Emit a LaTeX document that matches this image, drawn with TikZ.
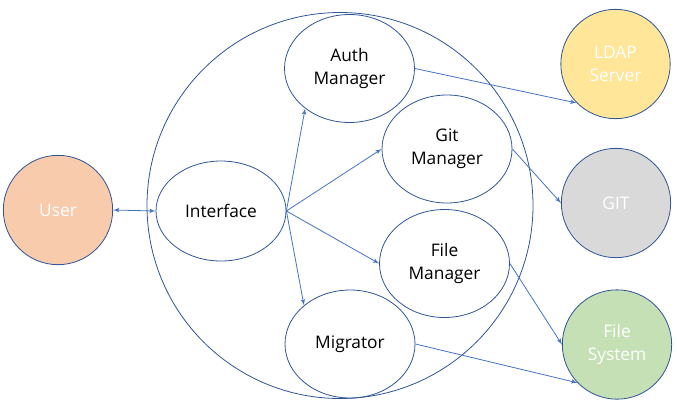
\documentclass[tikz,border=0pt]{standalone}
\usepackage{fontspec}
\setmainfont{Open Sans}
\usepackage{tikz}
\usetikzlibrary{arrows}
\usetikzlibrary{shapes.geometric}

\definecolor{bord}{HTML}{2F5597}
\definecolor{link}{HTML}{4472C4}
\definecolor{peach}{HTML}{F8CBAD}
\definecolor{sand}{HTML}{FFE699}
\definecolor{ash}{HTML}{D9D9D9}
\definecolor{sage}{HTML}{C5E0B4}

\begin{document}
\begin{tikzpicture}[x=0.75pt,y=-0.75pt]
    \tikzset{module/.style = {shape=ellipse,draw=bord,line width=0.6pt,inner sep=0pt,
        minimum width=97.5pt,minimum height=81pt,align=center,
        font=\fontsize{13pt}{17.5pt}\selectfont}}
    \tikzset{outer/.style = {shape=circle,draw=bord,line width=0.6pt,inner sep=0pt,
        minimum size=82pt,align=center,text=white,
        font=\fontsize{13pt}{17.5pt}\selectfont}}
    \tikzset{edge/.style = {->,> = latex',draw=link,line width=0.6pt}}

    \useasboundingbox (0,0) rectangle (677,408);

    % vertices

    \node[circle,draw=bord,line width=0.6pt,minimum size=289.5pt] (core) at (340,205.5) {};

    \node[outer,fill=peach] (user) at (58,210) {User};
    \node[module,minimum height=75pt] (iface) at (221,211) {Interface};

    \node[module] (auth) at (349.5,68.5) {Auth\\Manager};
\node[module] (git) at (447,149) {Git\\Manager};
\node[module] (file) at (444.5,263.5) {File\\Manager};
\node[module] (mig) at (350,344) {Migrator};

    \node[outer,fill=sand] (ldap) at (615.5,64) {LDAP\\Server};
\node[outer,fill=ash] (gitsrv) at (616,203) {GIT};
\node[outer,fill=sage] (fs) at (617,344.5) {File\\System};

 \draw[edge,<->] (user.east) to (iface.west);
    \draw[edge] (iface.east) to (auth.222);
    \draw[edge] (iface.east) to (git.west);
    \draw[edge] (iface.east) to (file.west);
    \draw[edge] (iface.east) to (mig.140);
    \draw[edge] (auth.east) to (ldap.225);
    \draw[edge] (git.east) to (gitsrv.west);
    \draw[edge] (file.east) to (fs.west);
    \draw[edge] (mig.east) to (fs.224);
      \end{tikzpicture}
\end{document}
